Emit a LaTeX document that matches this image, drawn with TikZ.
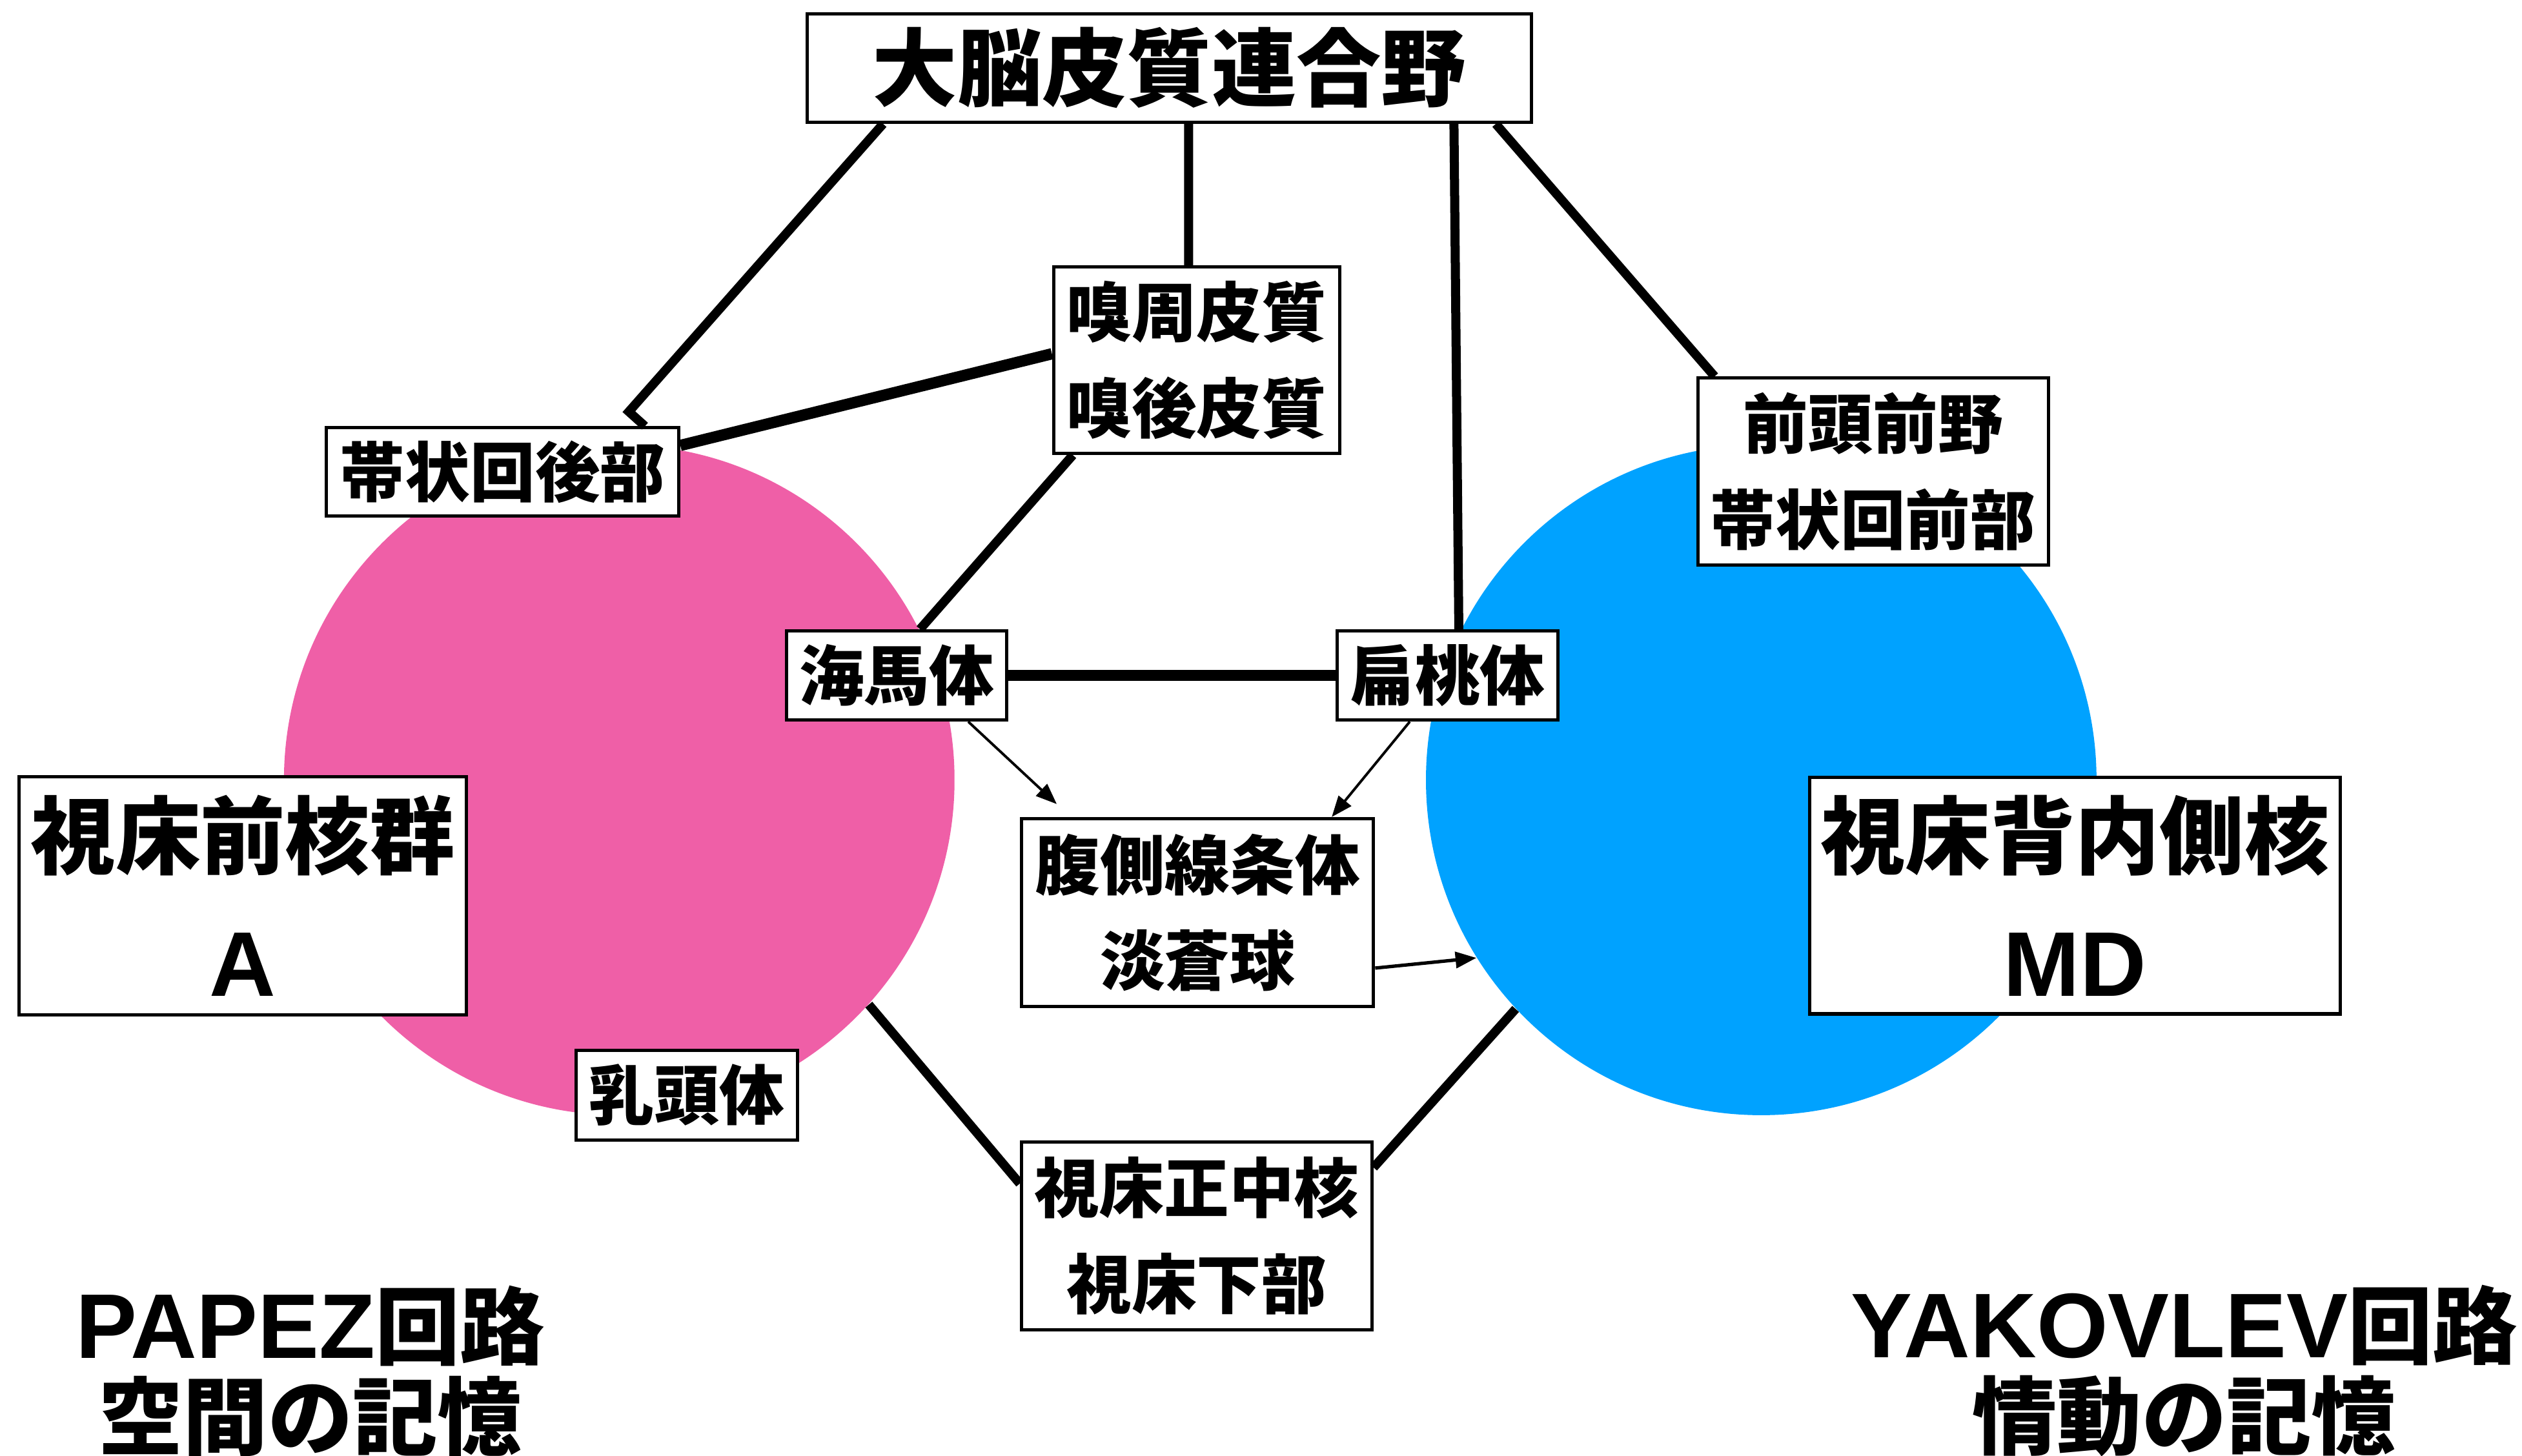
\documentclass[tikz,border=0pt]{standalone}
\usepackage{fontspec}
\setmainfont{Noto Sans CJK JP}
\newfontfamily\latinsf{Liberation Sans}
\usetikzlibrary{arrows.meta}
\definecolor{papezpink}{HTML}{EF5FA7}
\definecolor{yakovblue}{HTML}{00A2FF}
\begin{document}
\begin{tikzpicture}[x=0.02cm,y=-0.02cm,
    region/.style={circle,inner sep=0pt,minimum size=8.34cm},
    box/.style={draw,line width=1.15pt,fill=white,inner sep=0pt,align=center},
    bigbox/.style={box,font=\fontsize{30}{45.5}\selectfont\bfseries},
    smallbox/.style={box,font=\fontsize{23}{34}\selectfont\bfseries},
    caption/.style={align=center,font=\fontsize{30}{32}\selectfont\bfseries},
    path/.style={line width=3.2pt},
    mainpath/.style={line width=4pt},
    proj/.style={-{Triangle[length=0.26cm,width=0.2cm]},line width=0.9pt}]
  \useasboundingbox (0,0) rectangle (1568,905.4);
  \node[region,fill=papezpink] (papez) at (385,485) {};
  \node[region,fill=yakovblue] (yakov) at (1095,485) {};
  \draw
    (727,42.3) node[bigbox,minimum width=9cm,minimum height=1.35cm] (assoc){大脳皮質連合野}
    (744,224) node[smallbox,minimum width=3.56cm,minimum height=2.32cm] (olf){嗅周皮質\\嗅後皮質}
    (312.5,293.5) node[smallbox,minimum width=4.38cm,minimum height=1.1cm] (cingpost){帯状回後部}
    (1164.5,293.3) node[smallbox,minimum width=4.36cm,minimum height=2.33cm] (front){前頭前野\\帯状回前部}
    (557.5,420) node[smallbox,minimum width=2.74cm,minimum height=1.11cm] (hippo){海馬体}
    (900,420) node[smallbox,minimum width=2.74cm,minimum height=1.11cm] (amyg){扁桃体}
    (744.5,567.5) node[smallbox,minimum width=4.38cm,minimum height=2.34cm] (striat){腹側線条体\\淡蒼球}
    (151,557) node[bigbox,minimum width=5.56cm,minimum height=2.96cm] (ant){視床前核群\\{\latinsf\fontsize{32.5}{45.5}\selectfont A}}
    (1290,557) node[bigbox,minimum width=6.6cm,minimum height=2.94cm] (md){視床背内側核\\{\latinsf\fontsize{32.5}{45.5}\selectfont MD}}
    (427,681) node[smallbox,minimum width=2.76cm,minimum height=1.12cm] (mamm){乳頭体}
    (744,768.5) node[smallbox,minimum width=4.36cm,minimum height=2.34cm] (midl){視床正中核\\視床下部}
    (193,852.5) node[caption] (papeztxt){{\latinsf\fontsize{32.5}{32}\selectfont PAPEZ}回路\\空間の記憶}
    (1358,852.5) node[caption] (yakovtxt){{\latinsf\fontsize{32.5}{32}\selectfont YAKOVLEV}回路\\情動の記憶};
  \begin{scope}[path]
    \draw ([xshift=0.96cm]assoc.south west) -- ([xshift=3.78cm,yshift=0.18cm]cingpost.north west) -- ([xshift=3.98cm]cingpost.north west);
    \draw ([xshift=4.76cm]assoc.south west) -- ([xshift=1.7cm]olf.north west);
    \draw ([xshift=8.06cm]assoc.south west) -- ([xshift=1.53cm]amyg.north west);
    \draw ([xshift=-0.46cm]assoc.south east) -- ([xshift=0.23cm]front.north west);
    \draw ([xshift=0.26cm]olf.south west) -- ([xshift=1.68cm]hippo.north west);
    \draw (papez.318.3) -- ([yshift=-0.54cm]midl.north west);
    \draw ([yshift=-0.34cm]midl.north east) -- (yakov.223.8);
  \end{scope}
  \begin{scope}[mainpath]
    \draw ([yshift=-1.1cm]olf.north west) -- ([yshift=-0.24cm]cingpost.north east);
    \draw (hippo.east) -- (amyg.west);
  \end{scope}
  \begin{scope}[proj]
    \draw ([xshift=2.28cm]hippo.south west) -- ([xshift=0.46cm,yshift=0.16cm]striat.north west);
    \draw ([xshift=0.92cm]amyg.south west) -- ([xshift=-0.54cm]striat.north east);
    \draw[line width=1.2pt] ([yshift=-1.88cm]striat.north east) -- (yakov.212.5);
  \end{scope}
\end{tikzpicture}
\end{document}
